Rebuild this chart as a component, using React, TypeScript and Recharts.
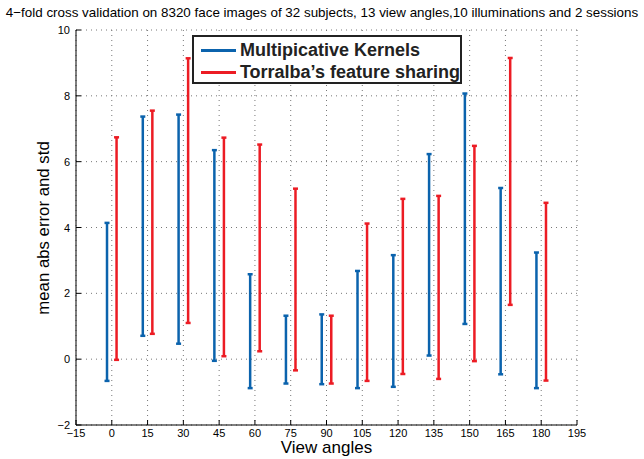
import { ScatterChart, Scatter, XAxis, YAxis, CartesianGrid, ErrorBar } from 'recharts'

const ANGLES = [0, 15, 30, 45, 60, 75, 90, 105, 120, 135, 150, 165, 180]
const MK_MEAN = [1.74, 4.04, 3.95, 3.15, 0.85, 0.29, 0.3, 0.9, 1.16, 3.17, 4.57, 2.37, 1.18]
const MK_STD = [2.4, 3.33, 3.48, 3.2, 1.73, 1.03, 1.06, 1.78, 2.0, 3.06, 3.5, 2.83, 2.06]
const TFS_MEAN = [3.36, 4.16, 5.12, 3.41, 3.38, 2.42, 0.29, 1.73, 2.21, 2.18, 3.21, 5.4, 2.05]
const TFS_STD = [3.38, 3.39, 4.02, 3.32, 3.14, 2.76, 1.03, 2.39, 2.66, 2.78, 3.27, 3.75, 2.7]
const X_TICKS = [-15, 0, 15, 30, 45, 60, 75, 90, 105, 120, 135, 150, 165, 180, 195]
const Y_TICKS = [-2, 0, 2, 4, 6, 8, 10]

const BLUE = '#0b63ad'
const RED = '#ec1c24'
const FONT = '"Liberation Sans", Arial, sans-serif'
const OFFSET = 2

const mkData = ANGLES.map((a, i) => ({ x: a - OFFSET, y: MK_MEAN[i], err: MK_STD[i] }))
const tfsData = ANGLES.map((a, i) => ({ x: a + OFFSET, y: TFS_MEAN[i], err: TFS_STD[i] }))

const fmt = (v: number) => (v < 0 ? `\u2212${Math.abs(v)}` : `${v}`)

const BottomTick = (props: any) => {
  const { x, y, payload } = props
  return (
    <g>
      <line x1={x} y1={y} x2={x} y2={y - 5} stroke="#000" />
      <text x={x} y={y + 12} textAnchor="middle" fontSize={11} fontFamily={FONT} fill="#000">
        {fmt(payload.value)}
      </text>
    </g>
  )
}

const LeftTick = (props: any) => {
  const { x, y, payload } = props
  return (
    <g>
      <line x1={x} y1={y} x2={x + 5} y2={y} stroke="#000" />
      <text x={x - 6} y={y + 4} textAnchor="end" fontSize={11} fontFamily={FONT} fill="#000">
        {fmt(payload.value)}
      </text>
    </g>
  )
}

const TopTick = (props: any) => {
  const { x, y } = props
  return <line x1={x} y1={y} x2={x} y2={y + 5} stroke="#000" />
}

const RightTick = (props: any) => {
  const { x, y } = props
  return <line x1={x} y1={y} x2={x - 5} y2={y} stroke="#000" />
}

const LEGEND_ITEMS = [
  { label: 'Multipicative Kernels', color: BLUE },
  { label: 'Torralba\u2019s feature sharing', color: RED },
]

const noDot = () => <g />

export default function App() {
  return (
    <div style={{ position: 'absolute', left: 0, top: 0, width: 644, height: 459, background: '#fff' }}>
      <div
        style={{
          position: 'absolute',
          top: 5,
          left: 0,
          width: 644,
          textAlign: 'center',
          fontFamily: FONT,
          fontSize: 13.4,
          color: '#000',
          whiteSpace: 'nowrap',
        }}
      >
        4{'\u2212'}fold cross validation on 8320 face images of 32 subjects, 13 view angles,10 illuminations and 2 sessions
      </div>
      <ScatterChart width={644} height={459} margin={{ top: 30, right: 67, left: 0, bottom: 0 }}>
        <CartesianGrid stroke="#777" strokeDasharray="1 4" />
        <XAxis
          type="number"
          dataKey="x"
          domain={[-15, 195]}
          ticks={X_TICKS}
          allowDataOverflow
          height={34}
          tickSize={0}
          tickMargin={0}
          tick={<BottomTick />}
          axisLine={{ stroke: '#000' }}
          tickLine={false}
        />
        <XAxis
          xAxisId="top"
          orientation="top"
          type="number"
          domain={[-15, 195]}
          ticks={X_TICKS}
          allowDataOverflow
          height={0}
          tickSize={0}
          tickMargin={0}
          tick={<TopTick />}
          axisLine={{ stroke: '#000' }}
          tickLine={false}
        />
        <YAxis
          type="number"
          dataKey="y"
          domain={[-2, 10]}
          ticks={Y_TICKS}
          allowDataOverflow
          width={76}
          tickSize={0}
          tickMargin={0}
          tick={<LeftTick />}
          axisLine={{ stroke: '#000' }}
          tickLine={false}
        />
        <YAxis
          yAxisId="right"
          orientation="right"
          type="number"
          domain={[-2, 10]}
          ticks={Y_TICKS}
          allowDataOverflow
          width={0}
          tickSize={0}
          tickMargin={0}
          tick={<RightTick />}
          axisLine={{ stroke: '#000' }}
          tickLine={false}
        />
        <Scatter data={mkData} fill={BLUE} shape={noDot} isAnimationActive={false}>
          <ErrorBar dataKey="err" direction="y" width={2.5} stroke={BLUE} strokeWidth={2.5} />
        </Scatter>
        <Scatter data={tfsData} fill={RED} shape={noDot} isAnimationActive={false}>
          <ErrorBar dataKey="err" direction="y" width={2.5} stroke={RED} strokeWidth={2.5} />
        </Scatter>
      </ScatterChart>
      <div
        style={{
          position: 'absolute',
          left: 192,
          top: 35,
          width: 270,
          height: 49,
          border: '2px solid #222',
          background: '#fff',
          padding: '2px 0 0 7px',
          fontFamily: FONT,
          fontWeight: 'bold',
          fontSize: 18,
          color: '#222',
          boxSizing: 'border-box',
          whiteSpace: 'nowrap',
        }}
      >
        {LEGEND_ITEMS.map((item) => (
          <div key={item.label} style={{ display: 'flex', alignItems: 'center', height: 22 }}>
            <span
              style={{ display: 'inline-block', width: 35, height: 3, background: item.color, marginRight: 4 }}
            />
            {item.label}
          </div>
        ))}
      </div>
      <div
        style={{
          position: 'absolute',
          top: 438,
          left: 76,
          width: 501,
          textAlign: 'center',
          fontFamily: FONT,
          fontSize: 17,
          color: '#000',
        }}
      >
        View angles
      </div>
      <div
        style={{
          position: 'absolute',
          left: 44,
          top: 228,
          transform: 'translate(-50%, -50%) rotate(-90deg)',
          fontFamily: FONT,
          fontSize: 16.8,
          color: '#000',
          whiteSpace: 'nowrap',
        }}
      >
        mean abs error and std
      </div>
    </div>
  )
}
